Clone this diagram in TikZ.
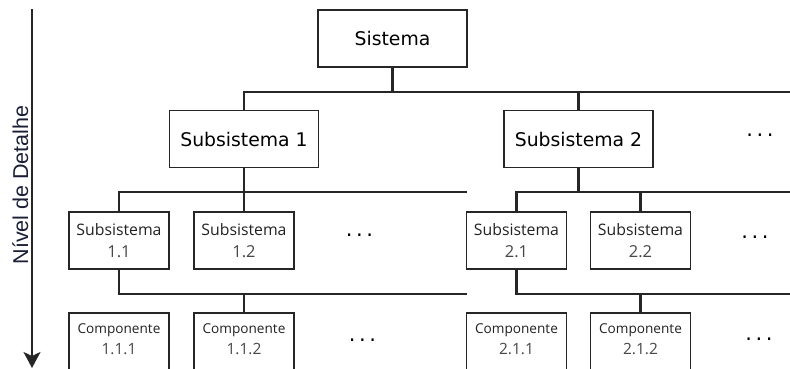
\documentclass[tikz,border=0pt]{standalone}
\usepackage{fontspec}
\setmainfont{DejaVu Sans}
\newfontfamily\boxfont{Open Sans}
\newfontfamily\axisfont{Liberation Sans}
\usetikzlibrary{arrows.meta}
\definecolor{edge}{HTML}{262626}
\definecolor{lbl}{HTML}{222222}
\definecolor{num}{HTML}{474747}
\definecolor{axistxt}{HTML}{1A1F36}
\begin{document}
\begin{tikzpicture}[x=1pt,y=-1pt,
  box/.style={draw=edge, line width=1.9pt, fill=white, inner sep=0pt, align=center},
  bigbox/.style={box, minimum width=149pt, minimum height=57pt,
    font=\fontsize{18.8}{22}\selectfont},
  subbox/.style={box, minimum width=100pt, minimum height=57pt,
    font=\boxfont\fontsize{15.8}{21.5}\selectfont},
  compbox/.style={box, minimum width=100pt, minimum height=58pt,
    font=\boxfont\fontsize{13.6}{21}\selectfont},
  link/.style={draw=edge, line width=2.3pt},
  more/.style={inner sep=0pt, anchor=south, font=\fontsize{21}{24}\selectfont},
  axisline/.style={draw=edge, line width=1.9pt, -{Stealth[length=16pt,width=17pt,inset=4pt]}},
]
\useasboundingbox (0,0) rectangle (790,369);

% level axis
\coordinate (axtop) at (32,9);
\coordinate (axbot) at (32,368);
\draw[axisline] (axtop) -- (axbot);
\node[rotate=90, anchor=base, text=axistxt, font=\axisfont\fontsize{21.5}{24}\selectfont]
  (axlabel) at (28,185) {Nível de Detalhe};

% boxes
\node[bigbox] (sis) at (392.5,38.5) {Sistema};
\node[bigbox] (sub1) at (244,139) {Subsistema 1};
\node[bigbox] (sub2) at (578.5,139) {Subsistema 2};

\node[subbox] (s11) at (119,240.5) {\textcolor{lbl}{Subsistema}\\\textcolor{num}{\fontsize{16.5}{21.5}\selectfont 1.1}};
\node[subbox] (s12) at (244,240.5) {\textcolor{lbl}{Subsistema}\\\textcolor{num}{\fontsize{16.5}{21.5}\selectfont 1.2}};
\node[subbox] (s21) at (516.5,240.5) {\textcolor{lbl}{Subsistema}\\\textcolor{num}{\fontsize{16.5}{21.5}\selectfont 2.1}};
\node[subbox] (s22) at (640.5,240.5) {\textcolor{lbl}{Subsistema}\\\textcolor{num}{\fontsize{16.5}{21.5}\selectfont 2.2}};

\node[compbox] (c111) at (119,342) {\textcolor{lbl}{Componente}\\\textcolor{num}{\fontsize{15.5}{21}\selectfont 1.1.1}\rule[-5pt]{0pt}{0pt}};
\node[compbox] (c112) at (244,342) {\textcolor{lbl}{Componente}\\\textcolor{num}{\fontsize{15.5}{21}\selectfont 1.1.2}\rule[-5pt]{0pt}{0pt}};
\node[compbox] (c211) at (516.5,342) {\textcolor{lbl}{Componente}\\\textcolor{num}{\fontsize{15.5}{21}\selectfont 2.1.1}\rule[-5pt]{0pt}{0pt}};
\node[compbox] (c212) at (640.5,342) {\textcolor{lbl}{Componente}\\\textcolor{num}{\fontsize{15.5}{21}\selectfont 2.1.2}\rule[-5pt]{0pt}{0pt}};

% bus ends
\coordinate (e1) at (790,92);
\coordinate (e2l) at (467,192);
\coordinate (e2r) at (790,192);
\coordinate (e3l) at (467,294);
\coordinate (e3r) at (790,294);

% level 1
\draw[link] (sub1.north) |- (e1);
\draw[link] (sis.south) -- (sis.south |- e1);
\draw[link] (sub2.north) -- (sub2.north |- e1);

% level 2
\draw[link] (s11.north) |- (e2l);
\draw[link] (sub1.south) -- (sub1.south |- e2l);
\draw[link] (s12.north) -- (s12.north |- e2l);
\draw[link] (s21.north) |- (e2r);
\draw[link] (sub2.south) -- (sub2.south |- e2r);
\draw[link] (s22.north) -- (s22.north |- e2r);

% level 3
\draw[link] (s11.south) |- (e3l);
\draw[link] (c112.north) -- (c112.north |- e3l);
\draw[link] (s21.south) |- (e3r);
\draw[link] (c212.north) -- (c212.north |- e3r);

% continuation marks
\node[more] (m1) at (760,137) {.\kern3.5pt.\kern3.5pt.};
\node[more] (m2l) at (359.5,237) {.\kern3.5pt.\kern3.5pt.};
\node[more] (m2r) at (755,239) {.\kern3.5pt.\kern3.5pt.};
\node[more] (m3l) at (362.5,342) {.\kern3.5pt.\kern3.5pt.};
\node[more] (m3r) at (759,341) {.\kern3.5pt.\kern3.5pt.};
\end{tikzpicture}
\end{document}
